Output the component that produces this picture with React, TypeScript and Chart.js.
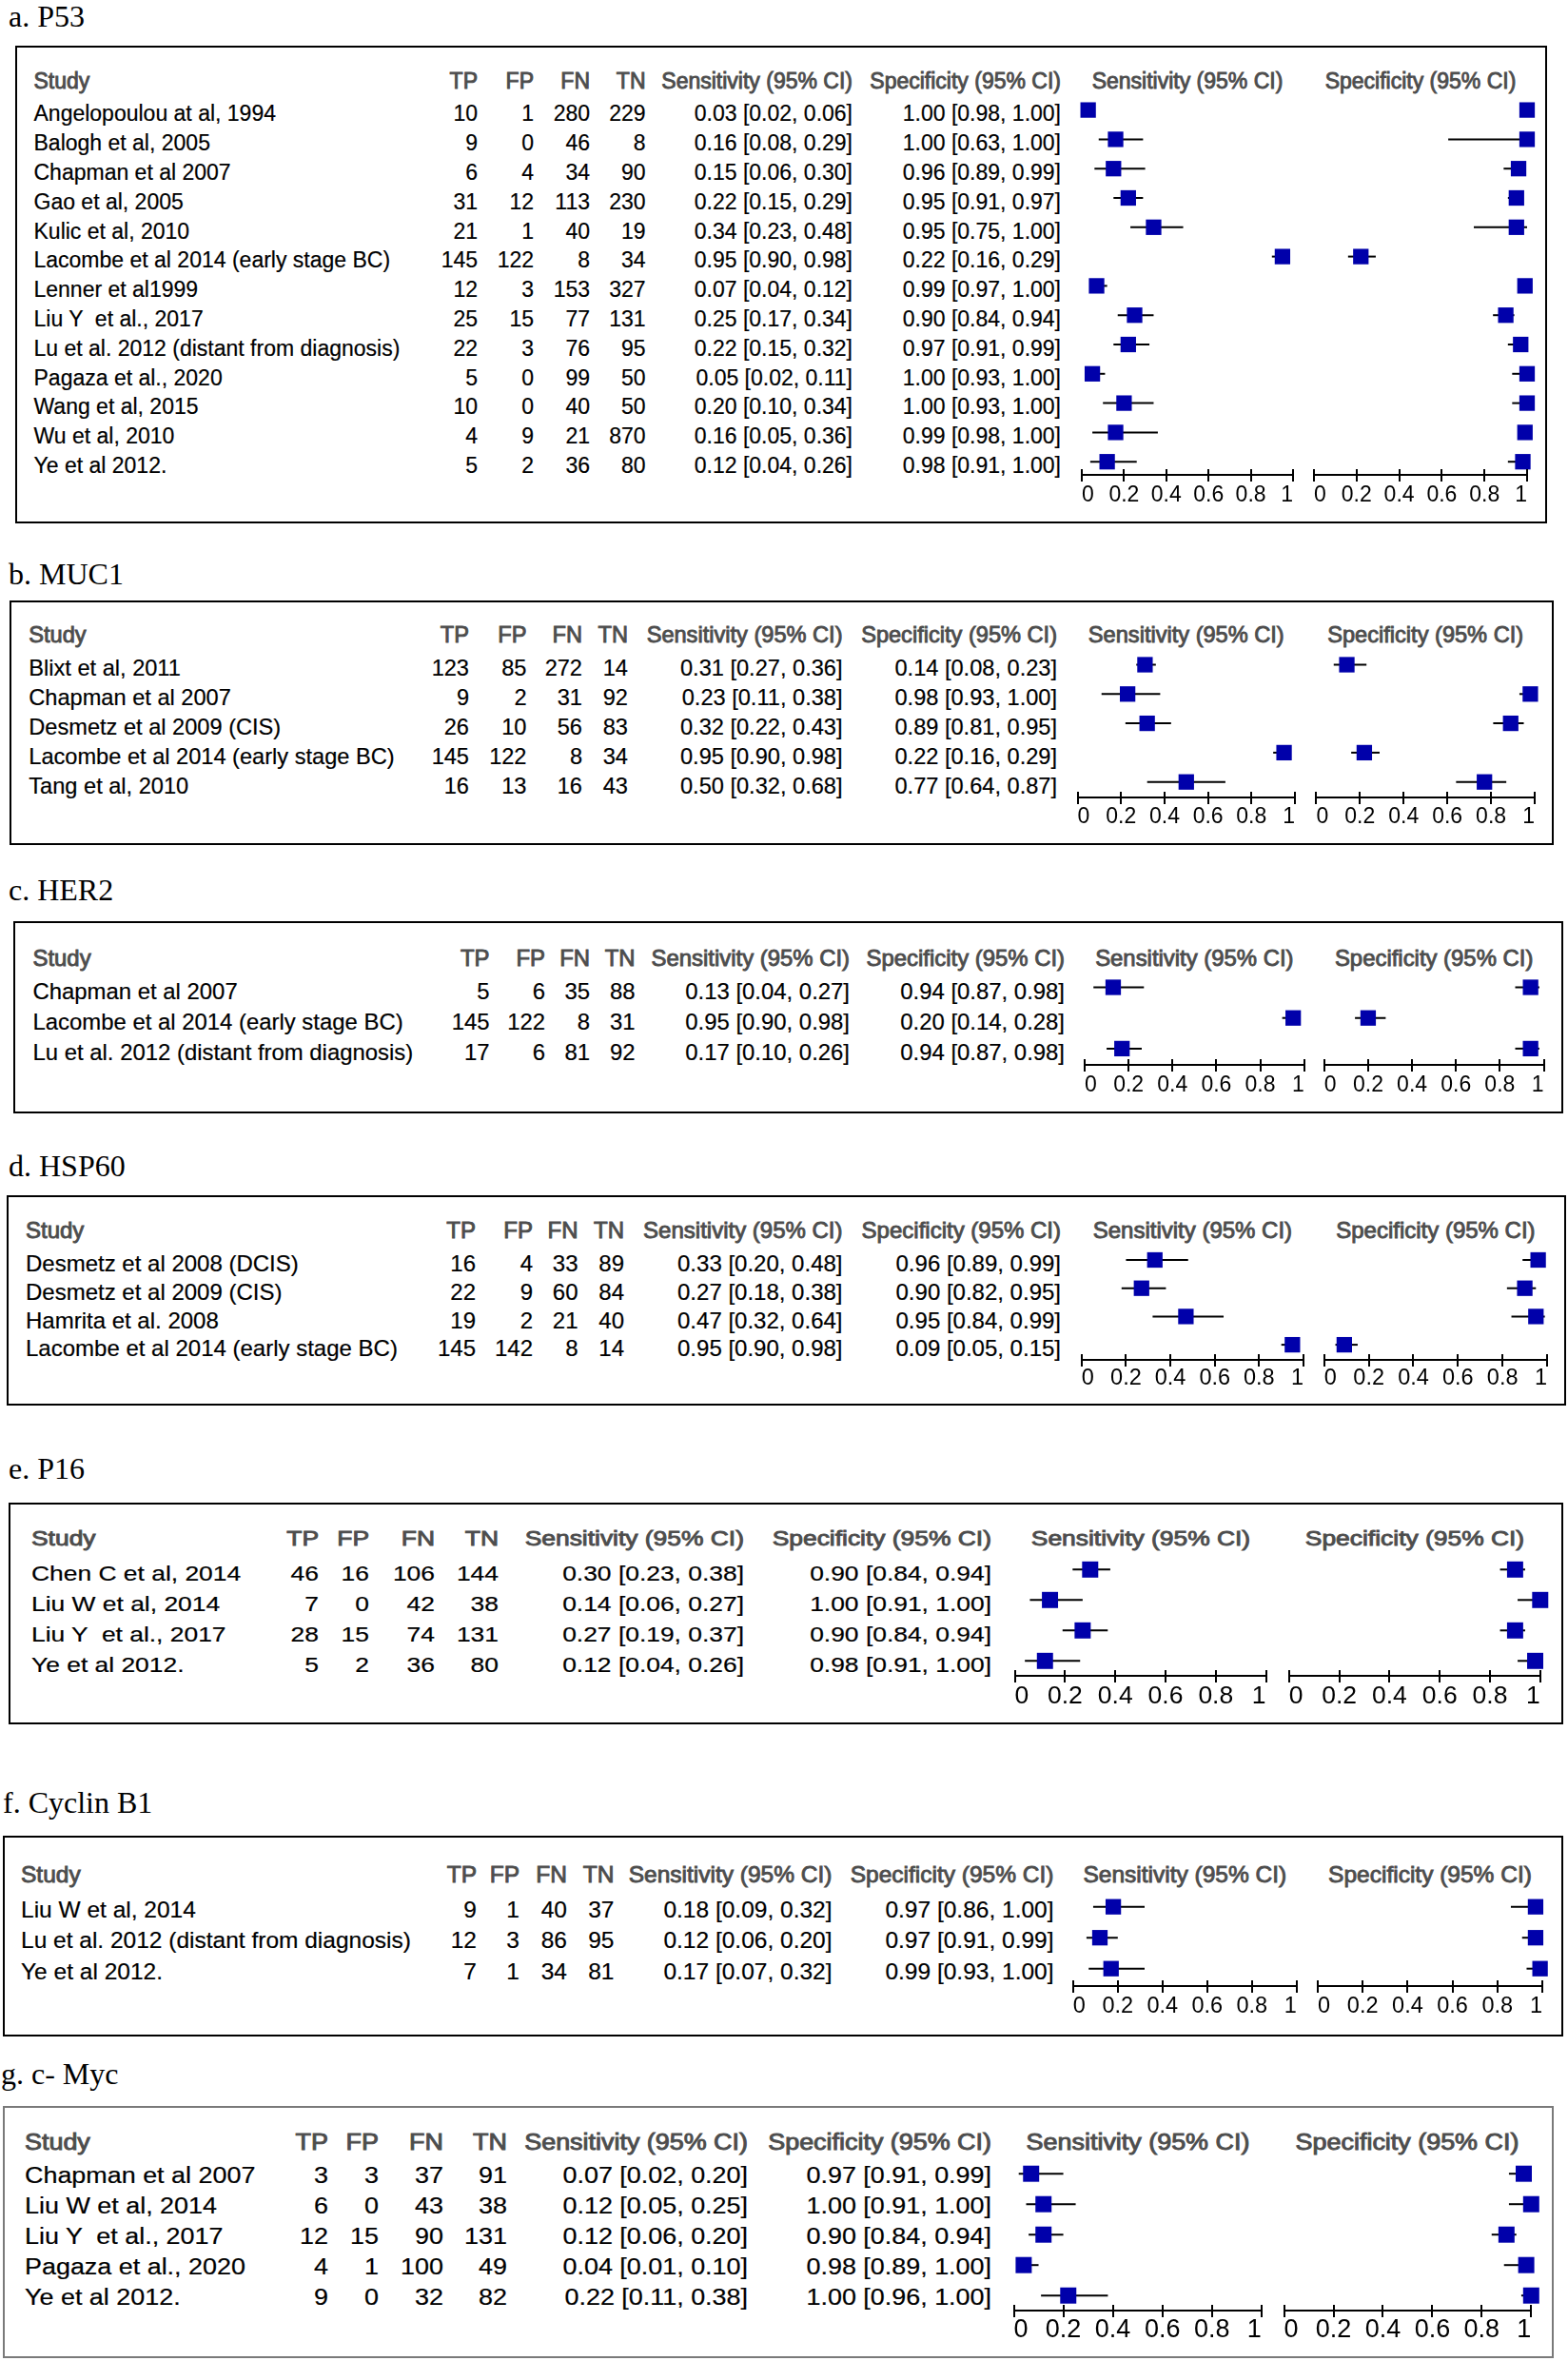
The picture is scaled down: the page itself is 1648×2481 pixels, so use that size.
import React, { useEffect, useRef } from "react";
import { Chart, registerables } from "chart.js";

Chart.register(...registerables);

// ---------------- DATA ----------------
const axisTicks = [0, 0.2, 0.4, 0.6, 0.8, 1];
const columnHeaders = ["Study", "TP", "FP", "FN", "TN", "Sensitivity (95% CI)", "Specificity (95% CI)"];
const plotHeaders = ["Sensitivity (95% CI)", "Specificity (95% CI)"];
const panelTitles = ["a. P53", "b. MUC1", "c. HER2", "d. HSP60", "e. P16", "f. Cyclin B1", "g. c- Myc"];

// a. P53
const p53Studies = [
  "Angelopoulou at al, 1994", "Balogh et al, 2005", "Chapman et al 2007", "Gao et al, 2005",
  "Kulic et al, 2010", "Lacombe et al 2014 (early stage BC)", "Lenner et al1999", "Liu Y  et al., 2017",
  "Lu et al. 2012 (distant from diagnosis)", "Pagaza et al., 2020", "Wang et al, 2015", "Wu et al, 2010", "Ye et al 2012.",
];
const p53Counts = [
  [10, 1, 280, 229], [9, 0, 46, 8], [6, 4, 34, 90], [31, 12, 113, 230], [21, 1, 40, 19], [145, 122, 8, 34],
  [12, 3, 153, 327], [25, 15, 77, 131], [22, 3, 76, 95], [5, 0, 99, 50], [10, 0, 40, 50], [4, 9, 21, 870], [5, 2, 36, 80],
];
const p53Sens = [
  [0.03, 0.02, 0.06], [0.16, 0.08, 0.29], [0.15, 0.06, 0.30], [0.22, 0.15, 0.29], [0.34, 0.23, 0.48], [0.95, 0.90, 0.98],
  [0.07, 0.04, 0.12], [0.25, 0.17, 0.34], [0.22, 0.15, 0.32], [0.05, 0.02, 0.11], [0.20, 0.10, 0.34], [0.16, 0.05, 0.36], [0.12, 0.04, 0.26],
];
const p53Spec = [
  [1.00, 0.98, 1.00], [1.00, 0.63, 1.00], [0.96, 0.89, 0.99], [0.95, 0.91, 0.97], [0.95, 0.75, 1.00], [0.22, 0.16, 0.29],
  [0.99, 0.97, 1.00], [0.90, 0.84, 0.94], [0.97, 0.91, 0.99], [1.00, 0.93, 1.00], [1.00, 0.93, 1.00], [0.99, 0.98, 1.00], [0.98, 0.91, 1.00],
];

// b. MUC1
const muc1Studies = ["Blixt et al, 2011", "Chapman et al 2007", "Desmetz et al 2009 (CIS)", "Lacombe et al 2014 (early stage BC)", "Tang et al, 2010"];
const muc1Counts = [[123, 85, 272, 14], [9, 2, 31, 92], [26, 10, 56, 83], [145, 122, 8, 34], [16, 13, 16, 43]];
const muc1Sens = [[0.31, 0.27, 0.36], [0.23, 0.11, 0.38], [0.32, 0.22, 0.43], [0.95, 0.90, 0.98], [0.50, 0.32, 0.68]];
const muc1Spec = [[0.14, 0.08, 0.23], [0.98, 0.93, 1.00], [0.89, 0.81, 0.95], [0.22, 0.16, 0.29], [0.77, 0.64, 0.87]];

// c. HER2
const her2Studies = ["Chapman et al 2007", "Lacombe et al 2014 (early stage BC)", "Lu et al. 2012 (distant from diagnosis)"];
const her2Counts = [[5, 6, 35, 88], [145, 122, 8, 31], [17, 6, 81, 92]];
const her2Sens = [[0.13, 0.04, 0.27], [0.95, 0.90, 0.98], [0.17, 0.10, 0.26]];
const her2Spec = [[0.94, 0.87, 0.98], [0.20, 0.14, 0.28], [0.94, 0.87, 0.98]];

// d. HSP60
const hsp60Studies = ["Desmetz et al 2008 (DCIS)", "Desmetz et al 2009 (CIS)", "Hamrita et al. 2008", "Lacombe et al 2014 (early stage BC)"];
const hsp60Counts = [[16, 4, 33, 89], [22, 9, 60, 84], [19, 2, 21, 40], [145, 142, 8, 14]];
const hsp60Sens = [[0.33, 0.20, 0.48], [0.27, 0.18, 0.38], [0.47, 0.32, 0.64], [0.95, 0.90, 0.98]];
const hsp60Spec = [[0.96, 0.89, 0.99], [0.90, 0.82, 0.95], [0.95, 0.84, 0.99], [0.09, 0.05, 0.15]];

// e. P16
const p16Studies = ["Chen C et al, 2014", "Liu W et al, 2014", "Liu Y  et al., 2017", "Ye et al 2012."];
const p16Counts = [[46, 16, 106, 144], [7, 0, 42, 38], [28, 15, 74, 131], [5, 2, 36, 80]];
const p16Sens = [[0.30, 0.23, 0.38], [0.14, 0.06, 0.27], [0.27, 0.19, 0.37], [0.12, 0.04, 0.26]];
const p16Spec = [[0.90, 0.84, 0.94], [1.00, 0.91, 1.00], [0.90, 0.84, 0.94], [0.98, 0.91, 1.00]];

// f. Cyclin B1
const cyclinStudies = ["Liu W et al, 2014", "Lu et al. 2012 (distant from diagnosis)", "Ye et al 2012."];
const cyclinCounts = [[9, 1, 40, 37], [12, 3, 86, 95], [7, 1, 34, 81]];
const cyclinSens = [[0.18, 0.09, 0.32], [0.12, 0.06, 0.20], [0.17, 0.07, 0.32]];
const cyclinSpec = [[0.97, 0.86, 1.00], [0.97, 0.91, 0.99], [0.99, 0.93, 1.00]];

// g. c-Myc
const mycStudies = ["Chapman et al 2007", "Liu W et al, 2014", "Liu Y  et al., 2017", "Pagaza et al., 2020", "Ye et al 2012."];
const mycCounts = [[3, 3, 37, 91], [6, 0, 43, 38], [12, 15, 90, 131], [4, 1, 100, 49], [9, 0, 32, 82]];
const mycSens = [[0.07, 0.02, 0.20], [0.12, 0.05, 0.25], [0.12, 0.06, 0.20], [0.04, 0.01, 0.10], [0.22, 0.11, 0.38]];
const mycSpec = [[0.97, 0.91, 0.99], [1.00, 0.91, 1.00], [0.90, 0.84, 0.94], [0.98, 0.89, 1.00], [1.00, 0.96, 1.00]];

const panels = [
  { studies: p53Studies, counts: p53Counts, sens: p53Sens, spec: p53Spec },
  { studies: muc1Studies, counts: muc1Counts, sens: muc1Sens, spec: muc1Spec },
  { studies: her2Studies, counts: her2Counts, sens: her2Sens, spec: her2Spec },
  { studies: hsp60Studies, counts: hsp60Counts, sens: hsp60Sens, spec: hsp60Spec },
  { studies: p16Studies, counts: p16Counts, sens: p16Sens, spec: p16Spec },
  { studies: cyclinStudies, counts: cyclinCounts, sens: cyclinSens, spec: cyclinSpec },
  { studies: mycStudies, counts: mycCounts, sens: mycSens, spec: mycSpec },
];

// ---------------- LAYOUT / STYLE ----------------
const FONT = '"Liberation Sans", Arial, Helvetica, sans-serif';
const SERIF = '"Liberation Serif", "Times New Roman", Times, serif';
const BLUE = "#0000AA";
const HEAD = "#4d4d4d";
const PAD = 18;
const AXIS_H = 46;
const TICK_UP = 7;
const TICK_DOWN = 6;

type Layout = {
  titleX: number; titleBase: number;
  box: number[]; border: string;
  fs: number; sx: number;
  headY: number; row0: number; rowH: number; sqDy: number;
  cols: number[];
  sensX: number[]; specX: number[];
  axisY: number; tickY: number; tickFs: number; marker: number;
};

const layouts: Layout[] = [
  { titleX: 9, titleBase: 27.5, box: [16, 48, 1626, 550], border: "#000", fs: 23, sx: 1, headY: 85.5, row0: 119.6, rowH: 30.8, sqDy: -4,
    cols: [35.5, 502, 561, 620, 678.5, 896, 1115], sensX: [1137, 1359], specX: [1381, 1605], axisY: 499, tickY: 520.5, tickFs: 23, marker: 11.5 },
  { titleX: 9, titleBase: 613.5, box: [9.5, 631, 1633, 888], border: "#000", fs: 23.6, sx: 1, headY: 668, row0: 703, rowH: 30.8, sqDy: -4.5,
    cols: [30.3, 493, 553.5, 612, 660, 885.5, 1111], sensX: [1132.6, 1361], specX: [1383.4, 1613], axisY: 838, tickY: 859, tickFs: 23, marker: 11.5 },
  { titleX: 9, titleBase: 945.5, box: [14, 968, 1643, 1170], border: "#000", fs: 23.9, sx: 1, headY: 1007, row0: 1041.5, rowH: 32.2, sqDy: -4,
    cols: [34.5, 514.5, 573, 620, 667.5, 893, 1119], sensX: [1140, 1370.7], specX: [1391.8, 1622.5], axisY: 1119, tickY: 1141, tickFs: 23, marker: 11.5 },
  { titleX: 9, titleBase: 1236, box: [7, 1256, 1646, 1477], border: "#000", fs: 24, sx: 1, headY: 1293, row0: 1328, rowH: 29.7, sqDy: -4,
    cols: [27, 500, 560, 607.5, 656, 885.5, 1115], sensX: [1136.8, 1370], specX: [1391.8, 1626], axisY: 1429, tickY: 1449, tickFs: 23.5, marker: 11.5 },
  { titleX: 9, titleBase: 1553.5, box: [9.4, 1579, 1642.6, 1811.7], border: "#000", fs: 22, sx: 1.2, headY: 1617, row0: 1653.3, rowH: 32, sqDy: -4,
    cols: [33, 334.5, 388, 456.5, 524, 782, 1042], sensX: [1066.6, 1330.6], specX: [1354.8, 1618.8], axisY: 1761, tickY: 1782.5, tickFs: 26.5, marker: 12 },
  { titleX: 3, titleBase: 1904.5, box: [2.6, 1929, 1642.6, 2140], border: "#000", fs: 24.5, sx: 1, headY: 1970, row0: 2006.7, rowH: 32.5, sqDy: -3,
    cols: [22, 501, 546, 596, 645.5, 874.5, 1107.5], sensX: [1127.8, 1362.8], specX: [1385, 1621], axisY: 2086.7, tickY: 2108.5, tickFs: 23.5, marker: 11.5 },
  { titleX: 1, titleBase: 2189.5, box: [2.6, 2212.7, 1633, 2478], border: "#7a7a7a", fs: 23, sx: 1.17, headY: 2251.7, row0: 2286.7, rowH: 32, sqDy: -2.5,
    cols: [26, 345, 397.5, 465.5, 532.5, 786, 1042], sensX: [1065.5, 1325.8], specX: [1349.6, 1609.3], axisY: 2428.3, tickY: 2449, tickFs: 27, marker: 12 },
];

const fmt = (r: number[]) => `${r[0].toFixed(2)} [${r[1].toFixed(2)}, ${r[2].toFixed(2)}]`;

type TxtProps = { x: number; y: number; text: string; align: "left" | "right" | "center"; fs: number; sx: number; header?: boolean };

function Txt({ x, y, text, align, fs, sx, header }: TxtProps) {
  const origin = align === "left" ? "left center" : align === "right" ? "right center" : "center center";
  const tx = align === "left" ? "" : align === "right" ? "translateX(-100%) " : "translateX(-50%) ";
  const style: any = {
    position: "absolute",
    left: x,
    top: y - 0.4885 * fs,
    fontFamily: FONT,
    fontSize: fs,
    lineHeight: 1,
    whiteSpace: "pre",
    transform: `${tx}scaleX(${sx})`,
    transformOrigin: origin,
    color: header ? HEAD : "#000",
    WebkitTextStroke: header ? `0.9px ${HEAD}` : "0.2px #000",
  };
  return <div style={style}>{text}</div>;
}

type PlotProps = { values: number[][]; x0: number; x1: number; row0: number; rowH: number; axisY: number; tickY: number; tickFs: number; marker: number };

function ForestPlot({ values, x0, x1, row0, rowH, axisY, tickY, tickFs, marker }: PlotProps) {
  const ref = useRef<HTMLCanvasElement | null>(null);
  const L = Math.round(x0 - PAD);
  const W = Math.round(x1 + PAD) - L;
  const T = Math.round(row0 - 0.55 * rowH);
  const H = Math.round(axisY - T + AXIS_H);
  useEffect(() => {
    const canvas = ref.current;
    if (!canvas) return;
    const areaH = H - AXIS_H;
    const yMin = (T - row0) / rowH;
    const yMax = (T + areaH - row0) / rowH;
    const ciPlugin = {
      id: "ciLines",
      beforeDatasetsDraw(chart: any) {
        const { ctx, scales } = chart;
        ctx.save();
        ctx.strokeStyle = "#000";
        ctx.lineWidth = 2;
        values.forEach((r, i) => {
          const py = scales.y.getPixelForValue(i);
          ctx.beginPath();
          ctx.moveTo(scales.x.getPixelForValue(r[1]), py);
          ctx.lineTo(scales.x.getPixelForValue(r[2]), py);
          ctx.stroke();
        });
        ctx.restore();
      },
    };
    const tickPlugin = {
      id: "tickMarks",
      afterDraw(chart: any) {
        const { ctx, scales, chartArea } = chart;
        const yb = chartArea.bottom + 1;
        ctx.save();
        ctx.strokeStyle = "#000";
        ctx.lineWidth = 2;
        scales.x.ticks.forEach((t: any) => {
          const px = Math.round(scales.x.getPixelForValue(t.value));
          ctx.beginPath();
          ctx.moveTo(px, yb - TICK_UP);
          ctx.lineTo(px, yb + TICK_DOWN);
          ctx.stroke();
        });
        ctx.restore();
      },
    };
    const chart = new Chart(canvas, {
      type: "scatter",
      data: {
        datasets: [
          {
            data: values.map((r, i) => ({ x: r[0], y: i })),
            pointStyle: "rect",
            pointRadius: marker,
            pointHoverRadius: marker,
            backgroundColor: BLUE,
            borderWidth: 0,
            clip: false as any,
          } as any,
        ],
      },
      options: {
        animation: false,
        responsive: false,
        maintainAspectRatio: false,
        events: [],
        layout: { autoPadding: false, padding: { left: x0 - L, right: L + W - x1, top: 0, bottom: 0 } } as any,
        plugins: { legend: { display: false }, tooltip: { enabled: false } },
        scales: {
          x: {
            type: "linear",
            min: 0,
            max: 1,
            afterBuildTicks: (s: any) => {
              s.ticks = axisTicks.map((v) => ({ value: v }));
            },
            afterFit: (s: any) => {
              s.height = AXIS_H;
            },
            grid: { display: false, drawTicks: false, tickLength: 0 },
            border: { display: true, color: "#000", width: 2 },
            ticks: {
              color: "#000",
              font: { family: FONT, size: tickFs },
              padding: tickY - axisY - 0.6 * tickFs,
              align: "inner",
              maxRotation: 0,
              autoSkip: false,
              callback: (v: any) => String(+Number(v).toFixed(1)),
            },
          } as any,
          y: { type: "linear", display: false, reverse: true, min: yMin, max: yMax },
        },
      },
      plugins: [ciPlugin, tickPlugin],
    });
    return () => chart.destroy();
  }, []);
  return <canvas ref={ref} width={W} height={H} style={{ position: "absolute", left: L, top: T, width: W, height: H }} />;
}

function Panel({ idx }: { idx: number }) {
  const p = panels[idx];
  const l = layouts[idx];
  const [bl, bt, br, bb] = l.box;
  const items: any[] = [];
  items.push(
    <div key="title" style={{ position: "absolute", left: l.titleX, top: l.titleBase - 0.8375 * 32, fontFamily: SERIF, fontSize: 32, lineHeight: 1, whiteSpace: "pre", color: "#000" }}>
      {panelTitles[idx]}
    </div>
  );
  items.push(
    <div key="box" style={{ position: "absolute", left: bl, top: bt, width: br - bl, height: bb - bt, border: `2px solid ${l.border}`, boxSizing: "border-box" }} />
  );
  columnHeaders.forEach((h, c) => {
    items.push(<Txt key={"h" + c} x={l.cols[c]} y={l.headY} text={h} align={c === 0 ? "left" : "right"} fs={l.fs} sx={l.sx} header />);
  });
  items.push(<Txt key="ph0" x={(l.sensX[0] + l.sensX[1]) / 2} y={l.headY} text={plotHeaders[0]} align="center" fs={l.fs} sx={l.sx} header />);
  items.push(<Txt key="ph1" x={(l.specX[0] + l.specX[1]) / 2} y={l.headY} text={plotHeaders[1]} align="center" fs={l.fs} sx={l.sx} header />);
  p.studies.forEach((s, i) => {
    const y = l.row0 + i * l.rowH;
    items.push(<Txt key={"s" + i} x={l.cols[0]} y={y} text={s} align="left" fs={l.fs} sx={l.sx} />);
    p.counts[i].forEach((v, c) => {
      items.push(<Txt key={`c${i}_${c}`} x={l.cols[c + 1]} y={y} text={String(v)} align="right" fs={l.fs} sx={l.sx} />);
    });
    items.push(<Txt key={"se" + i} x={l.cols[5]} y={y} text={fmt(p.sens[i])} align="right" fs={l.fs} sx={l.sx} />);
    items.push(<Txt key={"sp" + i} x={l.cols[6]} y={y} text={fmt(p.spec[i])} align="right" fs={l.fs} sx={l.sx} />);
  });
  const common = { row0: l.row0 + l.sqDy, rowH: l.rowH, axisY: l.axisY, tickY: l.tickY, tickFs: l.tickFs, marker: l.marker };
  items.push(<ForestPlot key="fs" values={p.sens} x0={l.sensX[0]} x1={l.sensX[1]} {...common} />);
  items.push(<ForestPlot key="fp" values={p.spec} x0={l.specX[0]} x1={l.specX[1]} {...common} />);
  return <>{items}</>;
}

export default function App() {
  return (
    <div style={{ position: "absolute", left: 0, top: 0, width: 1648, height: 2481, background: "#fff", overflow: "hidden" }}>
      {panels.map((_, i) => (
        <Panel key={i} idx={i} />
      ))}
    </div>
  );
}
